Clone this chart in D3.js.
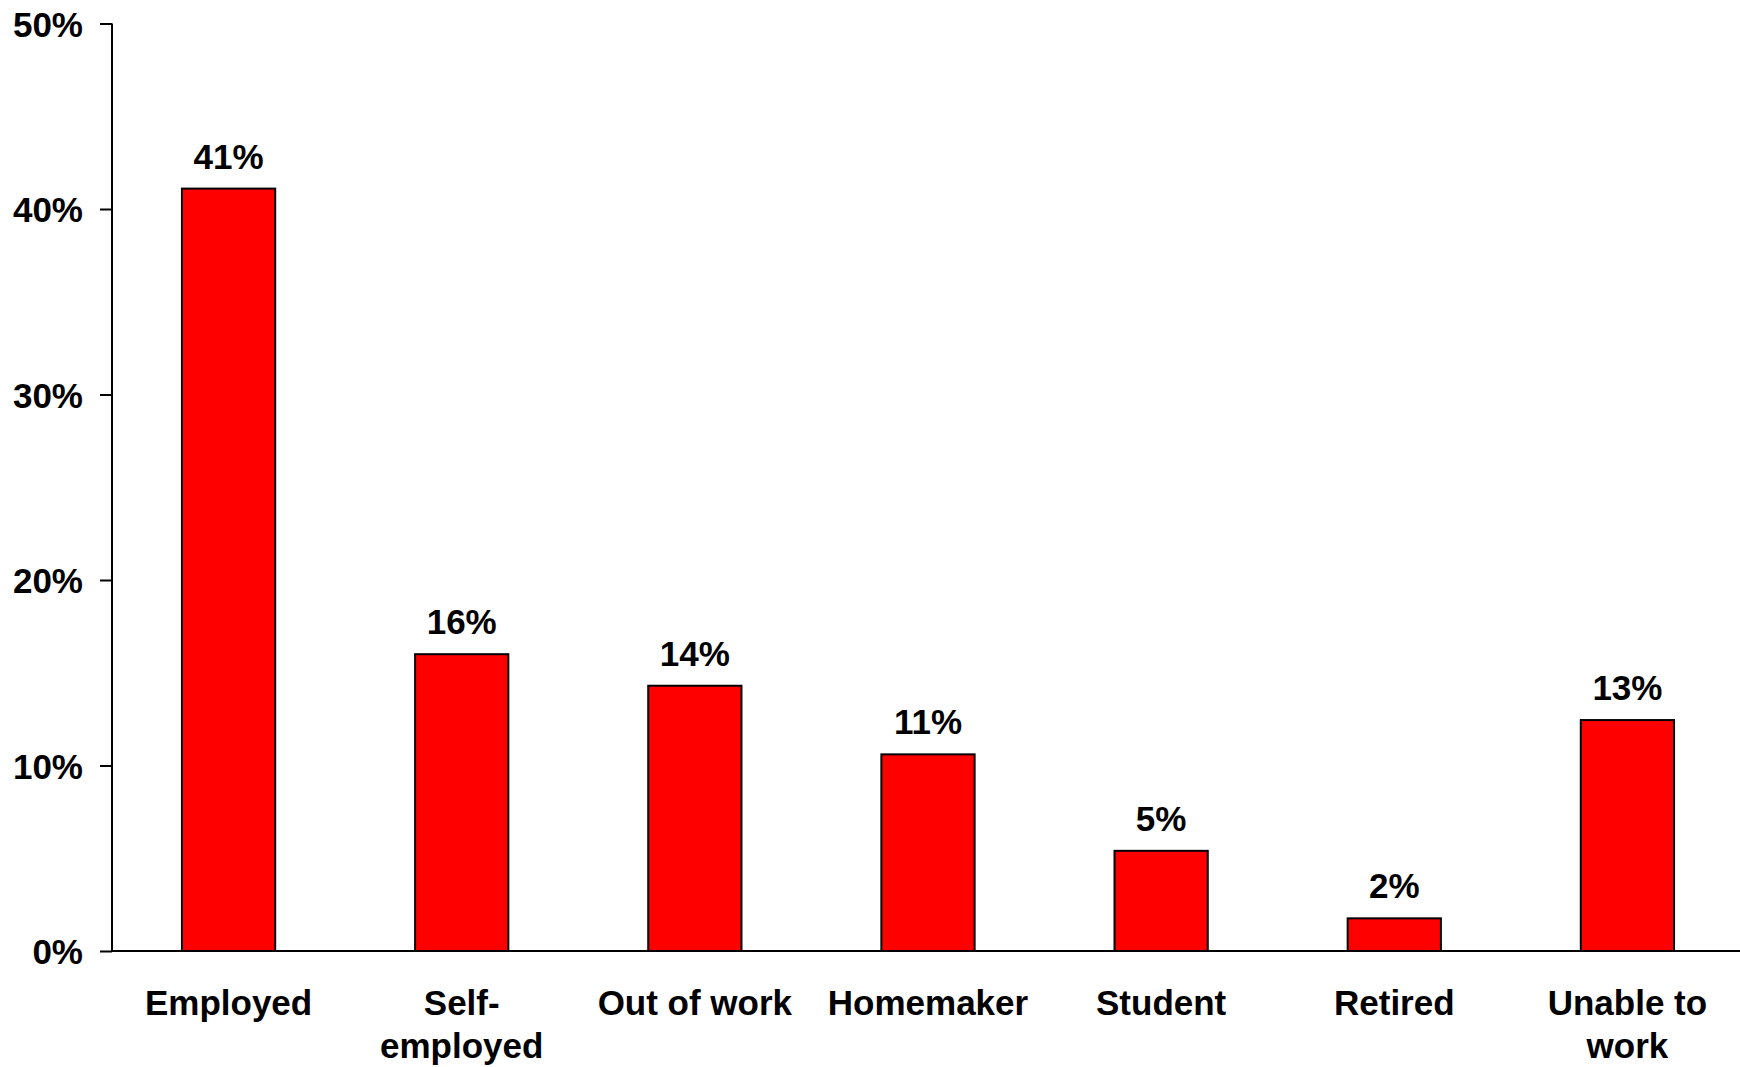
<!DOCTYPE html>
<html>
<head>
<meta charset="utf-8">
<script src="https://cdn.jsdelivr.net/npm/d3@7"></script>
<style>
  html, body { margin: 0; padding: 0; background: #fff; }
  svg { display: block; }
  text { font-family: "Liberation Sans", Arial, sans-serif; font-weight: bold; fill: #000; }
</style>
</head>
<body>
<svg id="chart" width="1740" height="1067"></svg>
<script>
// Employment status shares (percent)
const categories = ["Employed", "Self-\nemployed", "Out of work", "Homemaker", "Student", "Retired", "Unable to\nwork"];
const values = [41.1, 16.0, 14.3, 10.6, 5.4, 1.76, 12.45];
const valueLabels = ["41%", "16%", "14%", "11%", "5%", "2%", "13%"];
const yTicks = [0, 10, 20, 30, 40, 50];

const svg = d3.select("#chart");
const margin = { left: 112, right: -4, top: 23.5, bottom: 116 };
const W = 1740, H = 1067;

const x = d3.scaleBand()
  .domain(categories)
  .range([margin.left, W - margin.right])
  .paddingInner(0.6)
  .paddingOuter(0.3);

const y = d3.scaleLinear()
  .domain([0, 50])
  .range([H - margin.bottom, margin.top]);

// Bars
svg.append("g").selectAll("rect")
  .data(values)
  .join("rect")
  .attr("x", (d, i) => x(categories[i]))
  .attr("y", d => y(d))
  .attr("width", x.bandwidth())
  .attr("height", d => y(0) - y(d))
  .attr("fill", "#ff0000")
  .attr("stroke", "#000")
  .attr("stroke-width", 2);

// Value labels above bars
svg.append("g").selectAll("text")
  .data(values)
  .join("text")
  .attr("x", (d, i) => x(categories[i]) + x.bandwidth() / 2)
  .attr("y", d => y(d) - 20)
  .attr("text-anchor", "middle")
  .attr("font-size", 35)
  .text((d, i) => valueLabels[i]);

// Y axis
const yAxis = d3.axisLeft(y)
  .tickValues(yTicks)
  .tickFormat(d => d + "%")
  .tickSize(12)
  .tickPadding(17);

const gy = svg.append("g")
  .attr("transform", `translate(${margin.left},0)`)
  .call(yAxis);
gy.select(".domain").attr("stroke", "#000").attr("stroke-width", 2)
  .attr("d", `M0,${y(0)}V${y(50)}`);
gy.selectAll(".tick line").attr("stroke", "#000").attr("stroke-width", 2);
gy.selectAll(".tick text")
  .attr("font-size", 35)
  .attr("font-family", "'Liberation Sans', Arial, sans-serif")
  .attr("font-weight", "bold")
  .attr("fill", "#000")
  .attr("dy", "0.36em");

// X axis baseline
const xAxis = d3.axisBottom(x).tickSize(0).tickFormat("");
const gx = svg.append("g")
  .attr("transform", `translate(0,${y(0)})`)
  .call(xAxis);
gx.select(".domain").attr("stroke", "#000").attr("stroke-width", 2)
  .attr("d", `M${margin.left},0H${W}`);

// Category labels (multi-line)
const catG = svg.append("g");
categories.forEach(c => {
  const lines = c.split("\n");
  const t = catG.append("text")
    .attr("text-anchor", "middle")
    .attr("font-size", 35)
    .attr("x", x(c) + x.bandwidth() / 2)
    .attr("y", y(0) + 64);
  lines.forEach((ln, j) => {
    t.append("tspan")
      .attr("x", x(c) + x.bandwidth() / 2)
      .attr("dy", j === 0 ? 0 : 42.5)
      .text(ln);
  });
});
</script>
</body>
</html>
